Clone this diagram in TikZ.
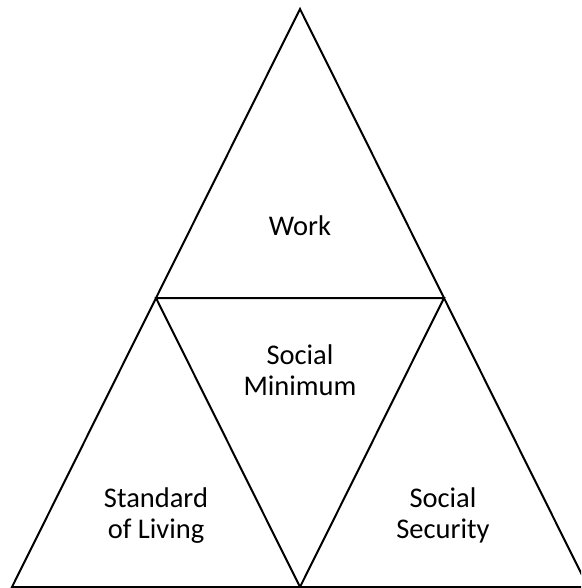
\documentclass[tikz,border=0pt]{standalone}
\usepackage{fontspec}
\setmainfont{Carlito}
\begin{document}
\begin{tikzpicture}[x=1pt,y=-1pt,
  edge/.style={draw=black,line width=2pt,line join=miter},
  lbl/.style={align=center,font=\fontsize{28.5}{31}\selectfont,inner sep=0pt,anchor=base}]
\useasboundingbox (0,0) rectangle (581,588);
\begin{scope}
\clip (0,0) rectangle (581,588);
% corner points of the outer triangle and the edge midpoints
\coordinate (top) at (300,9);
\coordinate (bl) at (12,587);
\coordinate (br) at (588,587);
\coordinate (ml) at (156,298);
\coordinate (mr) at (444,298);
\coordinate (mb) at (300,587);
\draw[edge] (top) -- (br) -- (bl) -- cycle;
\draw[edge] (ml) -- (mr) -- (mb) -- cycle;
\end{scope}
% labels are placed by the baseline of their last line
\node[lbl] (work) at (300,235) {Work};
\node[lbl] (minimum) at (300,395) {Social\\Minimum};
\node[lbl] (living) at (156,538) {Standard\\of Living};
\node[lbl] (security) at (443,538) {Social\\Security};
\end{tikzpicture}
\end{document}
